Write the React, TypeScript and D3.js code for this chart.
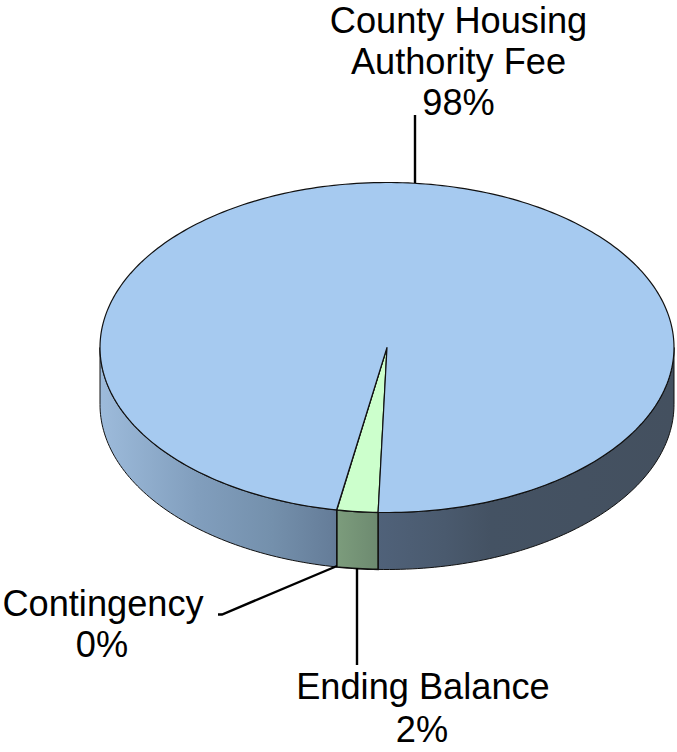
import React from "react";
import * as d3 from "d3";

const categories = ["Ending Balance", "Contingency", "County Housing Authority Fee"];
const values = [2.3, 0.02, 97.68];
const percentLabels = ["2%", "0%", "98%"];
const topColors = ["#CCFFCC", "#FFFFCC", "#A6CAF0"];
const labelLines = [["Ending Balance"], ["Contingency"], ["County Housing", "Authority Fee"]];

const W = 677, H = 752;
const cx = 387, cy = 347.5, rx = 287, ry = 165, depth = 57;
const start = Math.PI + 0.031;

const px = (a: number) => cx + rx * Math.sin(a);
const py = (a: number) => cy - ry * Math.cos(a);

const pie = d3.pie<number>().sort(null).startAngle(start).endAngle(start + 2 * Math.PI);
const arcs = pie(values);

function topPath(d: d3.PieArcDatum<number>) {
  const n = Math.max(2, Math.ceil((d.endAngle - d.startAngle) / 0.02));
  const t = d3.range(n + 1).map(i => d.startAngle + ((d.endAngle - d.startAngle) * i) / n);
  const line = d3.line<number>().x(px).y(py);
  return `M${cx},${cy}L${line(t)!.slice(1)}Z`;
}

function sidePath(a0: number, a1: number) {
  const n = Math.max(2, Math.ceil((a1 - a0) / 0.02));
  const t = d3.range(n + 1).map(i => a0 + ((a1 - a0) * i) / n);
  const upper = d3.line<number>().x(px).y(py)(t)!;
  const lower = d3.line<number>().x(px).y(a => py(a) + depth)([...t].reverse())!;
  return `${upper}L${lower.slice(1)}Z`;
}

const sideStops: [number, string][] = [
  [0, "#9DBBDB"], [0.17, "#819EBD"], [0.3, "#7490AC"], [0.4, "#667E9A"],
  [0.48, "#50627A"], [0.6, "#4A5A6E"], [0.68, "#445263"], [1, "#44505F"],
];
const greenStops: [number, string][] = [[0, "#7C9C7C"], [1, "#6D8A70"]];

const [ending, contingency] = arcs;

const TEXT: React.CSSProperties = { fontFamily: "'Liberation Sans', Arial, sans-serif", fontSize: 36.2, fill: "#000" };

export default function App() {
  const rightA0 = Math.PI / 2, rightA1 = ending.startAngle;
  const leftA0 = contingency.endAngle, leftA1 = 1.5 * Math.PI;
  return (
    <svg width={W} height={H} style={{ position: "absolute", left: 0, top: 0, background: "#fff" }}>
      <defs>
        <linearGradient id="side" gradientUnits="userSpaceOnUse" x1={cx - rx} x2={cx + rx} y1={0} y2={0}>
          {sideStops.map(([o, c]) => <stop key={o} offset={o} stopColor={c} />)}
        </linearGradient>
        <linearGradient id="green" gradientUnits="objectBoundingBox" x1={0} x2={1} y1={0} y2={0}>
          {greenStops.map(([o, c]) => <stop key={o} offset={o} stopColor={c} />)}
        </linearGradient>
      </defs>

      <path d={sidePath(rightA0, rightA1)} fill="url(#side)" stroke="#111" strokeWidth={1} />
      <path d={sidePath(leftA0, leftA1)} fill="url(#side)" stroke="#111" strokeWidth={1} />
      <path d={sidePath(ending.startAngle, ending.endAngle)} fill="url(#green)" stroke="#111" strokeWidth={1.6} />

      {arcs.map((d, i) => (
        <path key={categories[i]} d={topPath(d)} fill={topColors[i]} stroke="#111" strokeWidth={i === 1 ? 0.6 : 1.2} strokeLinejoin="round" />
      ))}

      <g stroke="#000" strokeWidth={2.4} fill="none">
        <path d="M415,115V183" />
        <path d="M218,614.5H222L337,566" />
        <path d="M357,568V665" />
      </g>

      <g style={TEXT} textAnchor="middle">
        <text x={458.5} y={33}>{labelLines[2][0]}</text>
        <text x={458.5} y={73.5}>{labelLines[2][1]}</text>
        <text x={458.5} y={115}>{percentLabels[2]}</text>
        <text x={103} y={616}>{labelLines[1][0]}</text>
        <text x={102} y={657}>{percentLabels[1]}</text>
        <text x={423} y={699}>{labelLines[0][0]}</text>
        <text x={422} y={741.5}>{percentLabels[0]}</text>
      </g>
    </svg>
  );
}
